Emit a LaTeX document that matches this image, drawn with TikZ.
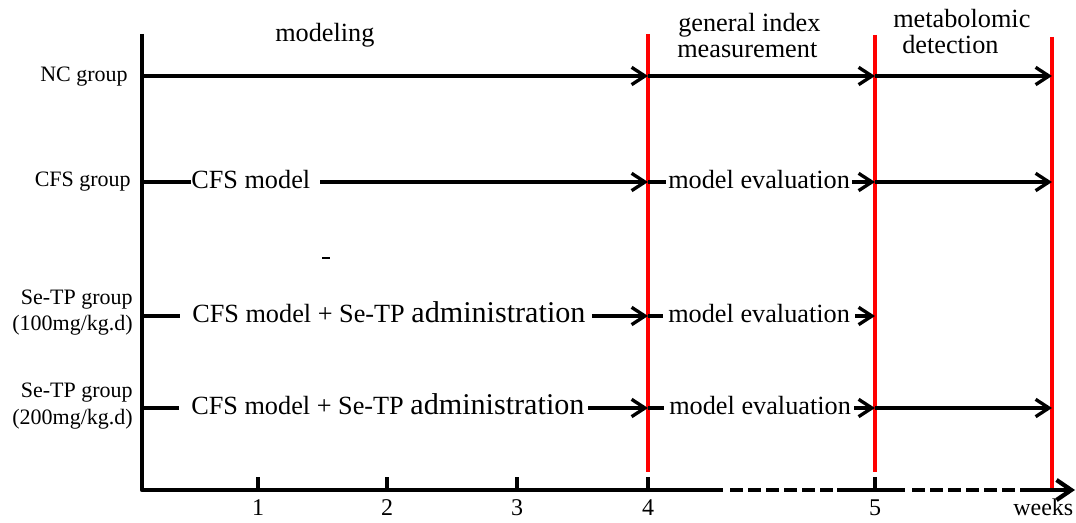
\documentclass[tikz,border=0pt]{standalone}
\usepackage{fontspec}
\setmainfont{Liberation Serif}
\usetikzlibrary{arrows.meta}

\newcommand{\bigword}[1]{{\fontsize{22.6}{26}\selectfont #1}}

\begin{document}
\begin{tikzpicture}[
    x=0.75pt, y=-0.75pt,
    axis/.style={line width=3.2pt, line join=round},
    flow/.style={line width=2.5pt, -{Straight Barb[length=10pt,width=13pt]}},
    link/.style={line width=2.5pt},
    redline/.style={red, line width=2.4pt},
    grp/.style={font=\fontsize{16.5}{20}\selectfont, inner sep=0pt, anchor=base east},
    task/.style={font=\fontsize{19.7}{24}\selectfont, inner sep=0pt, anchor=base west},
    stage/.style={font=\fontsize{19.7}{24}\selectfont, inner sep=0pt, anchor=base west},
    week/.style={font=\fontsize{18}{22}\selectfont, inner sep=0pt, anchor=base}
    ]

    \useasboundingbox (0,0) rectangle (1076,523);

    % red week borders
    \draw[redline] (648,34) coordinate (r4) -- (648,472);
    \draw[redline] (875,35) coordinate (r5) -- (875,472);
    \draw[redline] (1052,37) coordinate (r6) -- (1052,490);

    % axes
    \draw[axis] (142,34) -- (142,490) coordinate (o) -- (723,490);
    \draw[axis, dash pattern=on 10pt off 3.5pt] (730,490) -- (837,490);
    \draw[axis] (837,490) -- (905,490);
    \draw[axis, dash pattern=on 10pt off 3.5pt] (912,490) -- (1033,490);
    \draw[axis, -{Straight Barb[length=11pt,width=15pt]}] (1033,490) -- (1075,490);

    \foreach \x/\w in {258/1, 387/2, 517/3, 648/4, 875/5} {
      \draw[line width=2.5pt] (\x,490) -- (\x,477);
      \node[week] (w\w) at (\x,516) {\w};
    }
    \node[week, anchor=base west] (weeks) at (1013,516) {weeks};

    % stages
    \node[stage] (model) at (275,42) {modeling};
    \node[stage] (gen1) at (678,32) {general index};
    \node[stage] (gen2) at (677,58) {measurement};
    \node[stage] (met1) at (893,28) {metabolomic};
    \node[stage] (met2) at (902,54) {detection};

    % groups
    \node[grp] (nc) at (128,82) {NC group};
    \node[grp] (cfs) at (131,187) {CFS group};
    \node[grp] (se1) at (133,305) {Se-TP group};
    \node[grp] (se1d) at (133,331) {(100mg/kg.d)};
    \node[grp] (se2) at (133,398) {Se-TP group};
    \node[grp] (se2d) at (133,425) {(200mg/kg.d)};

    \coordinate (nc0) at (142,76);
    \coordinate (cfs0) at (142,182);
    \coordinate (se10) at (142,316);
    \coordinate (se20) at (142,408);

    % NC row
    \draw[flow] (nc0) -- (r4 |- nc0);
    \draw[flow] (r4 |- nc0) -- (r5 |- nc0);
    \draw[flow] (r5 |- nc0) -- (r6 |- nc0);

    % CFS row
    \node[task] (cfsm) at (191,189) {CFS model};
    \node[task] (cfse) at (668,189) {model evaluation};
    \draw[link] (cfs0) -- (cfsm.west |- cfs0);
    \draw[flow] ([xshift=7.5pt]cfsm.east |- cfs0) -- (r4 |- cfs0);
    \draw[link] (r4 |- cfs0) -- ([xshift=-1.5pt]cfse.west |- cfs0);
    \draw[flow] ([xshift=1.5pt]cfse.east |- cfs0) -- (r5 |- cfs0);
    \draw[flow] (r5 |- cfs0) -- (r6 |- cfs0);

    % Se-TP 100 row
    \node[task] (se1m) at (192,323) {CFS model + Se-TP \bigword{administration}};
    \node[task] (se1e) at (668,323) {model evaluation};
    \draw[link] (se10) -- ([xshift=-9pt]se1m.west |- se10);
    \draw[flow] ([xshift=4.5pt]se1m.east |- se10) -- (r4 |- se10);
    \draw[link] (r4 |- se10) -- ([xshift=-4pt]se1e.west |- se10);
    \draw[flow] ([xshift=4pt]se1e.east |- se10) -- (r5 |- se10);

    % Se-TP 200 row
    \node[task] (se2m) at (191,415) {CFS model + Se-TP \bigword{administration}};
    \node[task] (se2e) at (669,415) {model evaluation};
    \draw[link] (se20) -- ([xshift=-9pt]se2m.west |- se20);
    \draw[flow] ([xshift=2.5pt]se2m.east |- se20) -- (r4 |- se20);
    \draw[link] (r4 |- se20) -- ([xshift=-4pt]se2e.west |- se20);
    \draw[flow] ([xshift=2.5pt]se2e.east |- se20) -- (r5 |- se20);
    \draw[flow] (r5 |- se20) -- (r6 |- se20);

    \draw[line width=1.2pt] (322,258) -- (330,258);

\end{tikzpicture}
\end{document}
